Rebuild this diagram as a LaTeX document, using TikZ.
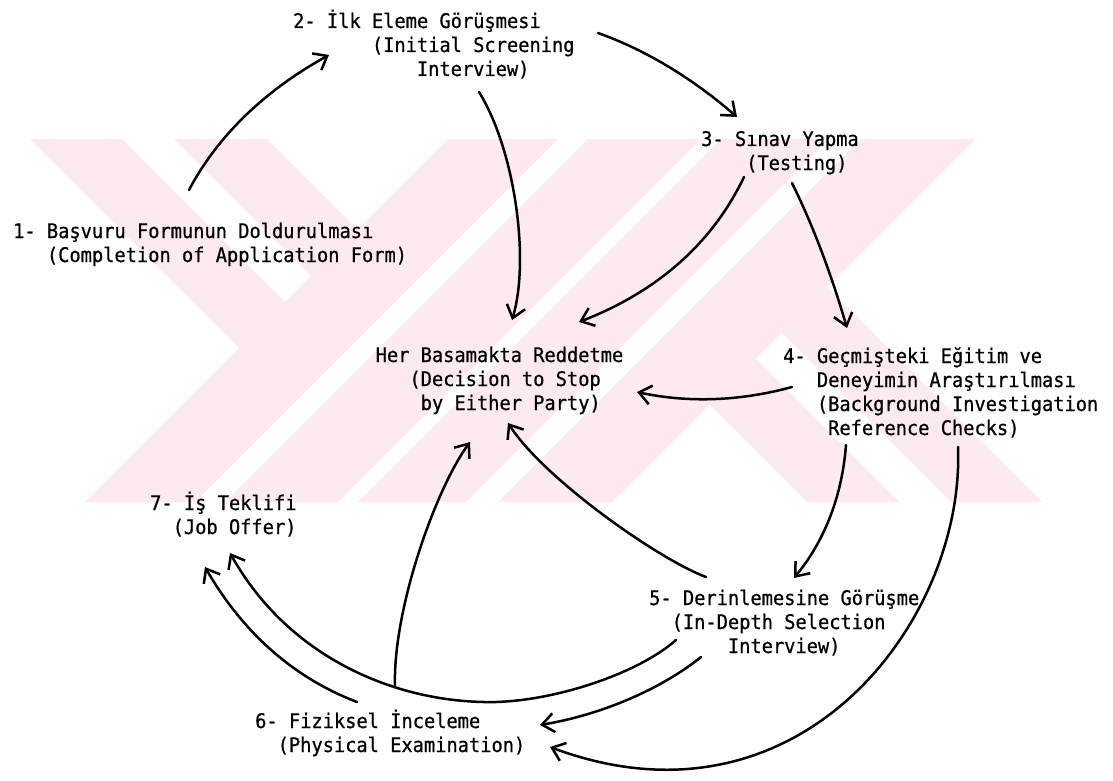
\documentclass[tikz,border=0pt]{standalone}
\usepackage{fontspec}
\usetikzlibrary{arrows.meta}
\newfontfamily\monofont[FakeStretch=0.93,FakeBold=0.7]{DejaVu Sans Mono}
\definecolor{wmpink}{RGB}{252,234,238}

\begin{document}
\begin{tikzpicture}[x=1pt, y=-1pt,
  txt/.style={anchor=base west, inner sep=0pt, font=\monofont\fontsize{20.1}{24}\selectfont},
  flow/.style={line width=2.5pt, line cap=round, line join=round,
               -{Straight Barb[length=12pt,width=19pt]}},
  wm/.style={fill=wmpink, draw=none}]

\useasboundingbox (0,0) rectangle (1113,781);

% background emblem: diagonal bands
\fill[wm] (30,139) -- (122,139) -- (287.5,304.5) -- (241.5,350.5) -- cycle;
\fill[wm] (174,139) -- (267,139) -- (364,236) -- (317.5,282.5) -- cycle;
\fill[wm] (448,139) -- (558,139) -- (195,502) -- (85,502) -- cycle;
\fill[wm] (588,139) -- (701,139) -- (338,502) -- (225,502) -- cycle;
\fill[wm] (721,139) -- (829,139) -- (466,502) -- (358,502) -- cycle;
\fill[wm] (861,139) -- (975,139) -- (612,502) -- (498,502) -- cycle;
\fill[wm] (707,402) -- (753,356) -- (899,502) -- (807,502) -- cycle;
\fill[wm] (779,330) -- (824.5,284.5) -- (1042,502) -- (951,502) -- cycle;

% 1
\node[txt] (s1a) at (13,238) {1- Başvuru Formunun Doldurulması};
\node[txt] (s1b) at (46.75,262) {(Completion of Application Form)};
% 2
\node[txt] (s2a) at (293,28) {2- İlk Eleme Görüşmesi};
\node[txt] (s2b) at (371.75,52) {(Initial Screening};
\node[txt] (s2c) at (416.75,76) {Interview)};
% 3
\node[txt] (s3a) at (701,146) {3- Sınav Yapma};
\node[txt] (s3b) at (746,170) {(Testing)};
% stop at any stage
\node[txt] (r1) at (375.5,362) {Her Basamakta Reddetme};
\node[txt] (r2) at (409.25,386) {(Decision to Stop};
\node[txt] (r3) at (420.5,410) {by Either Party)};
% 4
\node[txt] (s4a) at (783,363) {4- Geçmişteki Eğitim ve};
\node[txt] (s4b) at (816.75,387) {Deneyimin Araştırılması};
\node[txt] (s4c) at (816.75,411) {(Background Investigation};
\node[txt] (s4d) at (828,435) {Reference Checks)};
% 5
\node[txt] (s5a) at (649,605) {5- Derinlemesine Görüşme};
\node[txt] (s5b) at (671.5,629) {(In-Depth Selection};
\node[txt] (s5c) at (727.75,653) {Interview)};
% 6
\node[txt] (s6a) at (255,728) {6- Fiziksel İnceleme};
\node[txt] (s6b) at (277.5,752) {(Physical Examination)};
% 7
\node[txt] (s7a) at (150,510) {7- İş Teklifi};
\node[txt] (s7b) at (172.5,534) {(Job Offer)};

% connector end points
\coordinate (p1) at (189,190);  \coordinate (p2) at (329,55);
\coordinate (p3) at (598,33);   \coordinate (p4) at (737,117);
\coordinate (p5) at (479,92);   \coordinate (p6) at (512,320);
\coordinate (p7) at (744,177);  \coordinate (p8) at (579,322);
\coordinate (p9) at (792,183);  \coordinate (p10) at (847,328);
\coordinate (p11) at (792,387); \coordinate (p12) at (637,392);
\coordinate (p13) at (846,445); \coordinate (p14) at (794,578);
\coordinate (p15) at (958,447); \coordinate (p16) at (550,747);
\coordinate (p17) at (706,577); \coordinate (p18) at (508,423);
\coordinate (p19) at (676,640); \coordinate (p20) at (230,553);
\coordinate (p21) at (357,702); \coordinate (p22) at (205,567);
\coordinate (p23) at (395,685); \coordinate (p24) at (470,442);
\coordinate (p25) at (701,657); \coordinate (p26) at (540,725);

\draw[flow] (p1) .. controls (223.7,124.3) and (280,82) .. (p2);
\draw[flow] (p3) .. controls (645.7,50) and (692,78) .. (p4);
\draw[flow] (p5) .. controls (515,150) and (530,260) .. (p6);
\draw[flow] (p7) .. controls (712.3,243.3) and (657.3,291.7) .. (p8);
\draw[flow] (p9) .. controls (812.3,224) and (830.7,272.3) .. (p10);
\draw[flow] (p11) .. controls (739.7,401.3) and (688,403) .. (p12);
\draw[flow] (p13) .. controls (842,496.3) and (824.7,540.6) .. (p14);
\draw[flow] (p15) .. controls (965,620) and (800,840) .. (p16);
\draw[flow] (p17) .. controls (660,560) and (545,480) .. (p18);
\draw[flow] (p19) .. controls (640,672) and (560,700) .. (496,702)
                  .. controls (400,704) and (290,660) .. (p20);
\draw[flow] (p21) .. controls (293.5,677.7) and (242.9,632.7) .. (p22);
\draw[flow] (p23) .. controls (393,610) and (435,490) .. (p24);
\draw[flow] (p25) .. controls (660,690) and (600,715) .. (p26);

\end{tikzpicture}
\end{document}
